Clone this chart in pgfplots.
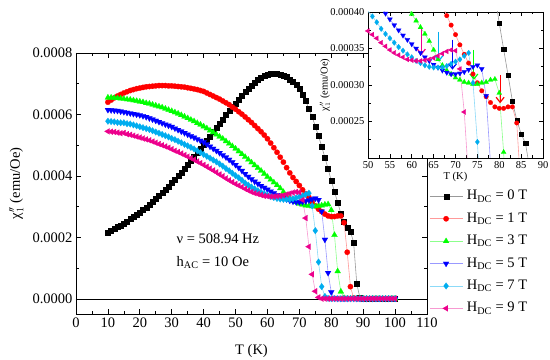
\documentclass[border=0pt]{standalone}
\usepackage{fontspec}
\setmainfont{Liberation Serif}
\usepackage{pgfplots}
\pgfplotsset{compat=1.18}
\usepackage{pgfplotstable}
\usetikzlibrary{arrows.meta}

% values in units of 1e-4 emu/Oe
\pgfplotstableread{
T b0 b1 b3 b5 b7 b9
10 2.16 6.40 6.55 6.15 5.78 5.45
11 2.22 6.47 6.55 6.14 5.77 5.44
12 2.28 6.54 6.54 6.13 5.76 5.43
13 2.34 6.60 6.53 6.12 5.74 5.41
14 2.40 6.65 6.52 6.10 5.73 5.39
15 2.46 6.70 6.51 6.08 5.73 5.40
16 2.53 6.74 6.49 6.06 5.70 5.36
17 2.60 6.78 6.48 6.04 5.69 5.34
18 2.67 6.81 6.46 6.02 5.66 5.31
19 2.74 6.84 6.44 6.00 5.63 5.28
20 2.82 6.86 6.42 5.98 5.60 5.25
21 2.90 6.88 6.40 5.95 5.57 5.22
22 2.98 6.90 6.37 5.92 5.54 5.19
23 3.07 6.91 6.35 5.88 5.51 5.16
24 3.16 6.92 6.32 5.84 5.47 5.12
25 3.25 6.93 6.29 5.80 5.43 5.08
26 3.35 6.94 6.26 5.76 5.39 5.04
27 3.45 6.94 6.23 5.72 5.35 5.00
28 3.55 6.94 6.19 5.68 5.31 4.96
29 3.66 6.93 6.15 5.64 5.27 4.92
30 3.77 6.93 6.11 5.60 5.22 4.87
31 3.88 6.92 6.07 5.55 5.18 4.82
32 4.00 6.91 6.03 5.50 5.13 4.78
33 4.12 6.90 5.98 5.45 5.08 4.73
34 4.24 6.89 5.93 5.40 5.03 4.68
35 4.36 6.87 5.88 5.35 4.98 4.63
36 4.49 6.85 5.83 5.30 4.93 4.58
37 4.62 6.83 5.78 5.25 4.88 4.53
38 4.75 6.81 5.72 5.20 4.82 4.47
39 4.88 6.78 5.67 5.15 4.76 4.42
40 5.02 6.75 5.61 5.10 4.70 4.36
41 5.15 6.70 5.55 5.03 4.64 4.30
42 5.29 6.65 5.48 4.96 4.58 4.24
43 5.43 6.60 5.42 4.89 4.52 4.18
44 5.57 6.55 5.35 4.82 4.46 4.12
45 5.71 6.50 5.28 4.75 4.39 4.05
46 5.84 6.44 5.21 4.68 4.32 3.99
47 5.98 6.38 5.13 4.61 4.24 3.92
48 6.11 6.32 5.05 4.53 4.17 3.86
49 6.24 6.24 4.97 4.45 4.09 3.80
50 6.37 6.17 4.89 4.36 4.01 3.74
51 6.50 6.09 4.80 4.27 3.94 3.69
52 6.62 6.01 4.71 4.17 3.86 3.64
53 6.74 5.92 4.62 4.07 3.77 3.58
54 6.85 5.83 4.53 3.98 3.70 3.53
55 6.95 5.74 4.44 3.90 3.64 3.48
56 7.04 5.64 4.35 3.82 3.58 3.44
57 7.12 5.54 4.26 3.75 3.52 3.41
58 7.19 5.44 4.17 3.68 3.47 3.38
59 7.25 5.33 4.07 3.62 3.42 3.35
60 7.29 5.21 3.97 3.56 3.38 3.34
61 7.32 5.07 3.88 3.50 3.33 3.33
62 7.33 4.92 3.79 3.44 3.30 3.33
63 7.32 4.77 3.70 3.38 3.27 3.34
64 7.30 4.61 3.60 3.33 3.25 3.35
65 7.27 4.45 3.48 3.28 3.24 3.37
66 7.22 4.27 3.35 3.24 3.24 3.40
67 7.15 4.10 3.27 3.20 3.24 3.43
68 7.07 3.95 3.20 3.17 3.26 3.46
69 6.97 3.82 3.15 3.15 3.29 3.48
70 6.84 3.69 3.10 3.15 3.32 3.47
71 6.66 3.55 3.07 3.16 3.35 3.22
72 6.44 3.42 3.04 3.18 3.40 2.63
73 6.19 3.30 3.03 3.21 3.44 1.70
74 5.92 3.15 3.01 3.25 3.03 0.80
75 5.62 3.03 3.01 3.27 2.22 0.25
76 5.30 2.92 3.03 3.22 1.20 0.05
77 4.96 2.84 3.04 2.85 0.40 0.01
78 4.60 2.76 3.07 1.93 0.08 0.01
79 4.23 2.70 3.08 0.85 0.02 0.01
80 3.85 2.68 2.89 0.22 0.01 0.01
81 3.49 2.68 2.08 0.03 0.01 0.01
82 3.14 2.70 0.90 0.01 0.01 0.01
83 2.78 2.70 0.24 0.01 0.01 0.01
84 2.52 2.48 0.03 0.01 0.01 0.01
85 2.33 1.52 0.01 0.01 0.01 0.01
86 2.20 0.40 0.01 0.01 0.01 0.01
87 1.84 0.03 0.01 0.01 0.01 0.01
88 0.49 0.01 0.01 0.01 0.01 0.01
89 0.03 0.01 0.01 0.01 0.01 0.01
90 0.01 0.01 0.01 0.01 0.01 0.01
91 0.01 0.01 0.01 0.01 0.01 0.01
92 0.01 0.01 0.01 0.01 0.01 0.01
93 0.01 0.01 0.01 0.01 0.01 0.01
94 0.01 0.01 0.01 0.01 0.01 0.01
95 0.01 0.01 0.01 0.01 0.01 0.01
96 0.01 0.01 0.01 0.01 0.01 0.01
97 0.01 0.01 0.01 0.01 0.01 0.01
98 0.01 0.01 0.01 0.01 0.01 0.01
99 0.01 0.01 0.01 0.01 0.01 0.01
100 0.01 0.01 0.01 0.01 0.01 0.01
}\chidata

\pgfplotsset{
  /pgf/number format/assume math mode=true,
  s0/.style={color=black!40, line width=0.6bp, mark=square*, mark size=#1,
    mark options={solid, fill=black, draw=black, line width=0.2bp}},
  s1/.style={color=red!40, line width=0.6bp, mark=*, mark size=#1,
    mark options={solid, fill=red, draw=red, line width=0.2bp}},
  s3/.style={color=green!45, line width=0.6bp, mark=triangle*, mark size=#1,
    mark options={solid, fill=green, draw=green, line width=0.2bp}},
  s5/.style={color=blue!40, line width=0.6bp, mark=triangle*, mark size=#1,
    mark options={solid, fill=blue, draw=blue, line width=0.2bp, rotate=180}},
  s7/.style={color=cyan!45, line width=0.6bp, mark=diamond*, mark size=#1,
    mark options={solid, fill=cyan, draw=cyan, line width=0.2bp}},
  s9/.style={color=magenta!40, line width=0.6bp, mark=triangle*, mark size=#1,
    mark options={solid, fill=magenta, draw=magenta, line width=0.2bp, rotate=90}},
}

\begin{document}
\begin{tikzpicture}[font=\fontsize{14.5bp}{17bp}\selectfont]
\begin{axis}[
  at={(0,0)}, anchor=south west,
  scale only axis, width=351bp, height=261bp,
  xmin=0, xmax=110, ymin=-0.49, ymax=8,
  xtick={0,10,...,110}, minor x tick num=1,
  ytick={0,2,4,6,8},
  yticklabels={0.0000,0.0002,0.0004,0.0006,0.0008},
  minor ytick={1,3,5,7},
  tick align=inside,
  major tick length=5bp, minor tick length=3bp,
  axis line style={line width=0.8bp},
  every tick/.style={black, line width=0.7bp},
  xlabel={T (K)},
  ylabel={χ$''_1$ (emu/Oe)},
  x label style={at={(axis description cs:0.5,-0.14)}, anchor=center},
  y label style={at={(axis description cs:-0.17,0.5)}, anchor=center},
  legend style={at={(axis description cs:1.006,0.484)}, anchor=north west,
    draw=none, fill=none, inner sep=0pt, row sep=5.4bp,
    nodes={inner sep=1bp, text height=11bp, text depth=4bp},
    /tikz/every odd column/.style={column sep=3bp}},
  legend cell align=left,
  legend image code/.code={\draw[mark repeat=2,mark phase=2]
    plot coordinates {(0bp,0bp) (16.5bp,0bp) (33bp,0bp)};},
]
\addplot[black, line width=0.8bp, forget plot] coordinates {(0,0) (110,0)};
\addplot[s0=2.5bp] table[x=T, y=b0] {\chidata};
\addlegendentry{H\textsubscript{DC} = 0 T}
\addplot[s1=2.7bp] table[x=T, y=b1] {\chidata};
\addlegendentry{H\textsubscript{DC} = 1 T}
\addplot[s3=3.4bp] table[x=T, y=b3] {\chidata};
\addlegendentry{H\textsubscript{DC} = 3 T}
\addplot[s5=3.4bp] table[x=T, y=b5] {\chidata};
\addlegendentry{H\textsubscript{DC} = 5 T}
\addplot[s7=3.3bp] table[x=T, y=b7] {\chidata};
\addlegendentry{H\textsubscript{DC} = 7 T}
\addplot[s9=3.4bp] table[x=T, y=b9] {\chidata};
\addlegendentry{H\textsubscript{DC} = 9 T}
\node[anchor=west, inner sep=0pt] at (axis cs:31.5,1.95) {ν = 508.94 Hz};
\node[anchor=west, inner sep=0pt] at (axis cs:31.5,1.18) {h\textsubscript{AC} = 10 Oe};
\end{axis}

\begin{axis}[
  at={(292bp,156bp)}, anchor=south west,
  scale only axis, width=175bp, height=146bp,
  xmin=50, xmax=90, ymin=2, ymax=4,
  xtick={50,55,...,90}, minor x tick num=1,
  ytick={2.5,3,3.5,4},
  yticklabels={0.00025,0.00030,0.00035,0.00040},
  minor ytick={2.25,2.75,3.25,3.75},
  tick align=inside,
  major tick length=4bp, minor tick length=2.5bp,
  axis line style={line width=0.7bp},
  every tick/.style={black, line width=0.6bp},
  axis background/.style={fill=white},
  tick label style={font=\fontsize{10.5bp}{12bp}\selectfont},
  label style={font=\fontsize{10.5bp}{12bp}\selectfont},
  xlabel={T (K)},
  ylabel={χ$''_1$ (emu/Oe)},
  x label style={at={(axis description cs:0.5,-0.13)}, anchor=center},
  y label style={at={(axis description cs:-0.246,0.5)}, anchor=center},
]
\addplot[s0=2.1bp] table[x=T, y=b0] {\chidata};
\addplot[s1=2.3bp] table[x=T, y=b1] {\chidata};
\addplot[s3=2.9bp] table[x=T, y=b3] {\chidata};
\addplot[s5=2.9bp] table[x=T, y=b5] {\chidata};
\addplot[s7=2.8bp] table[x=T, y=b7] {\chidata};
\addplot[s9=2.9bp] table[x=T, y=b9] {\chidata};
\draw[magenta, line width=1.2bp, -{Straight Barb[length=5bp,width=8bp]}] (axis cs:62.2,3.79) -- (axis cs:62.2,3.41);
\draw[cyan, line width=1.2bp, -{Straight Barb[length=5bp,width=8bp]}] (axis cs:66.2,3.73) -- (axis cs:66.2,3.32);
\draw[blue, line width=1.2bp, -{Straight Barb[length=5bp,width=8bp]}] (axis cs:69.3,3.62) -- (axis cs:69.3,3.21);
\draw[green, line width=1.2bp, -{Straight Barb[length=5bp,width=8bp]}] (axis cs:74.2,3.48) -- (axis cs:74.2,3.07);
\draw[red, line width=1.2bp, -{Straight Barb[length=5bp,width=8bp]}] (axis cs:80.2,3.14) -- (axis cs:80.2,2.75);
\end{axis}
\pgfresetboundingbox
\path[use as bounding box] (-76bp,-46bp) rectangle (474bp,314bp);
\end{tikzpicture}
\end{document}
